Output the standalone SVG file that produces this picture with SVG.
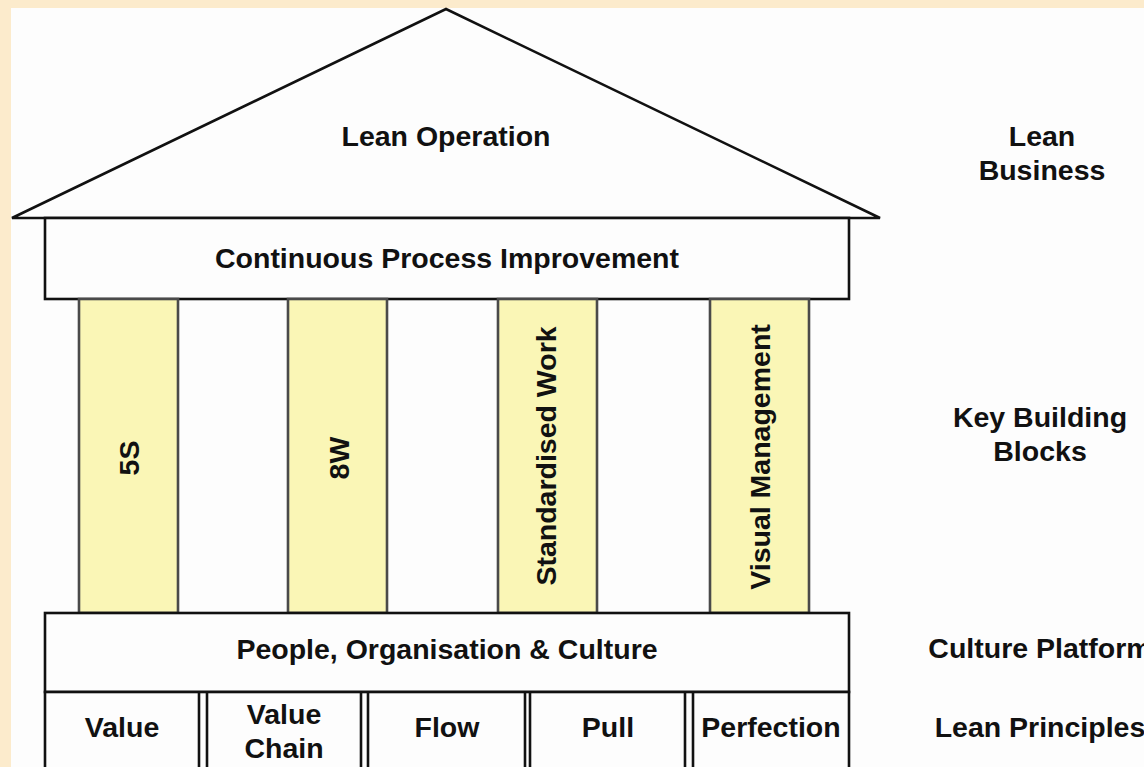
<svg xmlns="http://www.w3.org/2000/svg" width="1144" height="767" viewBox="0 0 1144 767">
<style>
.ln{fill:#fdfdfd;stroke:#111;stroke-width:2.6}
.pl{fill:#faf6b6;stroke:#4a4a4a;stroke-width:2.6}
.t{font-family:"Liberation Sans",Arial,sans-serif;font-weight:bold;font-size:28.5px;fill:#111;text-anchor:middle}
</style>
<rect x="0" y="0" width="1144" height="767" fill="#fcebcc"/>
<rect x="11" y="8" width="1133" height="759" fill="#fdfdfd"/>
<g id="roof">
<polygon class="ln" points="12,218 446,9 880,218"/>
<text class="t" x="446" y="146">Lean Operation</text>
</g>
<g id="cpi">
<rect class="ln" x="45" y="218" width="804" height="81"/>
<text class="t" x="447" y="268">Continuous Process Improvement</text>
</g>
<g id="pillar-5s">
<rect class="pl" x="79" y="299" width="99" height="314"/>
<text class="t" transform="translate(129,458) rotate(-90)" x="0" y="10">5S</text>
</g>
<g id="pillar-8w">
<rect class="pl" x="288" y="299" width="99" height="314"/>
<text class="t" transform="translate(339,458) rotate(-90)" x="0" y="10">8W</text>
</g>
<g id="pillar-sw">
<rect class="pl" x="498" y="299" width="99" height="314"/>
<text class="t" transform="translate(546,456) rotate(-90)" x="0" y="10">Standardised Work</text>
</g>
<g id="pillar-vm">
<rect class="pl" x="710" y="299" width="99" height="314"/>
<text class="t" transform="translate(760,457) rotate(-90)" x="0" y="10">Visual Management</text>
</g>
<g id="culture">
<rect class="ln" x="45" y="613" width="804" height="79"/>
<text class="t" x="447" y="659">People, Organisation &amp; Culture</text>
</g>
<g id="principles">
<rect class="ln" x="45" y="692" width="804" height="80"/>
<g stroke="#111" stroke-width="2.6">
<line x1="199" y1="692" x2="199" y2="767"/><line x1="207" y1="692" x2="207" y2="767"/>
<line x1="361" y1="692" x2="361" y2="767"/><line x1="368" y1="692" x2="368" y2="767"/>
<line x1="525" y1="692" x2="525" y2="767"/><line x1="530" y1="692" x2="530" y2="767"/>
<line x1="685" y1="692" x2="685" y2="767"/><line x1="693" y1="692" x2="693" y2="767"/>
</g>
<text class="t" x="122" y="737">Value</text>
<text class="t" x="284" y="724">Value</text>
<text class="t" x="284" y="758">Chain</text>
<text class="t" x="447" y="737">Flow</text>
<text class="t" x="608" y="737">Pull</text>
<text class="t" x="771" y="737">Perfection</text>
</g>
<g id="labels">
<text class="t" x="1042" y="146">Lean</text>
<text class="t" x="1042" y="180">Business</text>
<text class="t" x="1040" y="427">Key Building</text>
<text class="t" x="1040" y="461">Blocks</text>
<text class="t" x="1040" y="658">Culture Platform</text>
<text class="t" x="1040" y="737">Lean Principles</text>
</g>
<g id="connectors"></g>
</svg>
